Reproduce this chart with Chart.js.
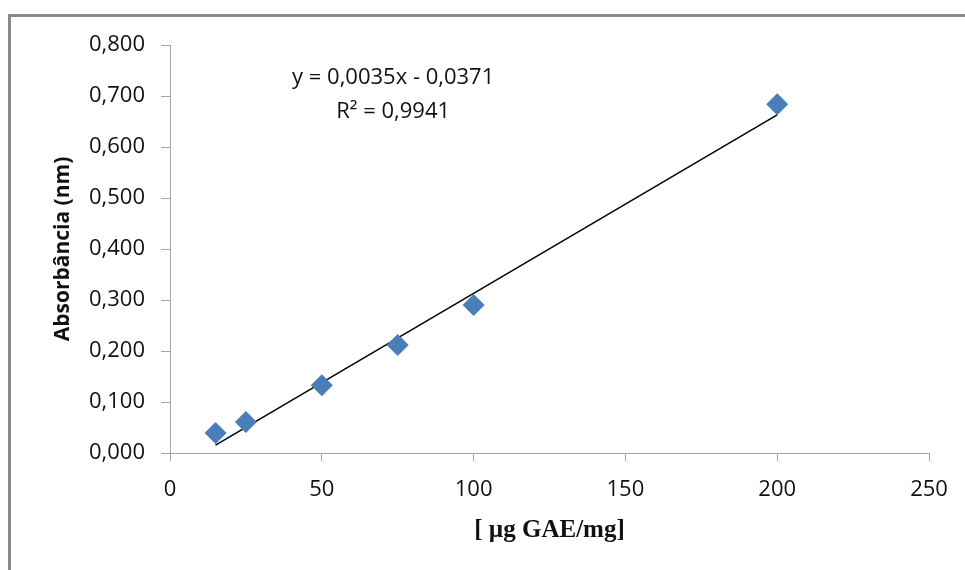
<!DOCTYPE html>
<html lang="pt">
<head>
    <meta charset="UTF-8">
    <title>Curva de calibração - ácido gálico</title>
    <script src="https://cdn.jsdelivr.net/npm/chart.js"></script>
    <style>
        html, body { margin: 0; padding: 0; background: #fff; }
        #wrap { width: 965px; height: 570px; }
    </style>
</head>
<body>
    <div id="wrap"><canvas id="myChart" width="965" height="570"></canvas></div>
    <script>
        // Concentrações (µg GAE/mg) e absorbâncias
        const concentracoes = [15, 25, 50, 75, 100, 200];
        const absorbancias = [0.039, 0.061, 0.133, 0.212, 0.290, 0.684];

        // Linha de tendência (equação mostrada no gráfico)
        const inclinacao = 0.0035;
        const intercepto = -0.0371;
        const equacao = 'y = 0,0035x - 0,0371';
        const r2Texto = 'R² = 0,9941';

        const xTicks = [0, 50, 100, 150, 200, 250];
        const yTicks = [0, 0.1, 0.2, 0.3, 0.4, 0.5, 0.6, 0.7, 0.8];

        const pontos = concentracoes.map((x, i) => ({ x: x, y: absorbancias[i] }));
        const xMin = concentracoes[0];
        const xMax = concentracoes[concentracoes.length - 1];
        const tendencia = [
            { x: xMin, y: inclinacao * xMin + intercepto },
            { x: xMax, y: inclinacao * xMax + intercepto }
        ];

        const tickFont = { family: 'Open Sans', size: 22 };
        const eixoCor = '#a6a6a6';

        // Moldura cinza e texto da equação
        const extras = {
            id: 'extras',
            beforeDraw(chart) {
                const ctx = chart.ctx;
                ctx.save();
                ctx.strokeStyle = '#8a8a8a';
                ctx.lineWidth = 3;
                ctx.beginPath();
                ctx.moveTo(9.5, 580);
                ctx.lineTo(9.5, 15.5);
                ctx.lineTo(980, 15.5);
                ctx.stroke();
                ctx.restore();
            },
            afterDraw(chart) {
                const ctx = chart.ctx;
                const xs = chart.scales.x;
                const ys = chart.scales.y;
                ctx.save();
                ctx.fillStyle = '#111';
                ctx.font = '22px "Open Sans"';
                ctx.textAlign = 'center';
                ctx.textBaseline = 'middle';
                ctx.fillText(equacao, xs.getPixelForValue(73.5), ys.getPixelForValue(0.735));
                ctx.fillText(r2Texto, xs.getPixelForValue(73.5), ys.getPixelForValue(0.669));
                ctx.restore();
            }
        };

        new Chart(document.getElementById('myChart'), {
            type: 'scatter',
            data: {
                datasets: [
                    {
                        label: 'Absorbância',
                        data: pontos,
                        pointStyle: 'rectRot',
                        pointRadius: 11,
                        pointHoverRadius: 11,
                        backgroundColor: '#4a7ebb',
                        borderColor: '#4a7ebb',
                        borderWidth: 0
                    },
                    {
                        label: 'Linear',
                        data: tendencia,
                        type: 'line',
                        showLine: true,
                        borderColor: '#000',
                        borderWidth: 1.5,
                        pointRadius: 0,
                        fill: false
                    }
                ]
            },
            options: {
                responsive: false,
                animation: false,
                layout: { padding: { left: 50, right: 36, top: 45, bottom: 24 } },
                plugins: {
                    legend: { display: false },
                    tooltip: { enabled: false }
                },
                scales: {
                    x: {
                        type: 'linear',
                        min: 0,
                        max: 250,
                        afterBuildTicks: s => { s.ticks = xTicks.map(v => ({ value: v })); },
                        afterFit: s => { s.height = 93; s.paddingLeft = 0; s.paddingRight = 0; },
                        grid: { display: true, drawOnChartArea: false, drawTicks: true, tickLength: 8, tickColor: eixoCor },
                        border: { color: eixoCor, width: 1 },
                        ticks: { color: '#111', font: tickFont, padding: 16 },
                        title: {
                            display: true,
                            text: '[ µg GAE/mg]',
                            color: '#111',
                            font: { family: 'Liberation Serif', size: 25, weight: 'bold' },
                            padding: { top: 4, bottom: 0 }
                        }
                    },
                    y: {
                        min: 0,
                        max: 0.8,
                        afterBuildTicks: s => { s.ticks = yTicks.map(v => ({ value: v })); },
                        afterFit: s => { s.width = 120; s.paddingTop = 0; s.paddingBottom = 0; },
                        grid: { display: true, drawOnChartArea: false, drawTicks: true, tickLength: 9, tickColor: eixoCor },
                        border: { color: eixoCor, width: 1 },
                        ticks: {
                            color: '#111',
                            font: tickFont,
                            padding: 16,
                            callback: v => v.toFixed(3).replace('.', ',')
                        },
                        title: {
                            display: true,
                            text: 'Absorbância (nm)',
                            color: '#111',
                            font: { family: 'Open Sans', size: 21, weight: 'bold' },
                            padding: { top: 0, bottom: 0 }
                        }
                    }
                }
            },
            plugins: [extras]
        });
    </script>
</body>
</html>
